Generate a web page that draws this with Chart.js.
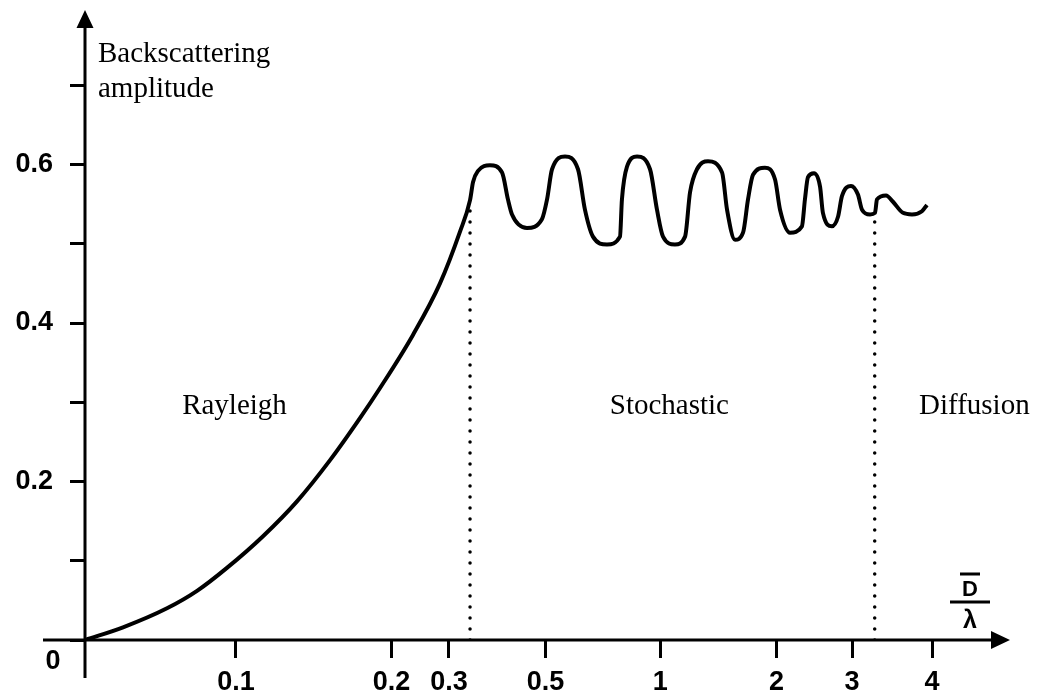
<!DOCTYPE html>
<html>
<head>
<meta charset="utf-8">
<title>Backscattering amplitude</title>
<script src="https://cdn.jsdelivr.net/npm/chart.js@4.4.1/dist/chart.umd.min.js"></script>
<style>
  html, body { margin: 0; padding: 0; background: #fff; }
  #wrap { width: 1049px; height: 700px; }
</style>
</head>
<body>
<div id="wrap"><canvas id="chart" width="1049" height="700"></canvas></div>
<script>
// The D/lambda axis is drawn schematically, not to scale.
// Positions along it are in "tick units": the 0.1 tick sits at 1.
const xTickPos = [1, 2.03, 2.41, 3.05, 3.81, 4.58, 5.08, 5.61];
const xTickLabels = ['0.1', '0.2', '0.3', '0.5', '1', '2', '3', '4'];
const yTicks = [0, 0.1, 0.2, 0.3, 0.4, 0.5, 0.6, 0.7];
const yLabelled = ['0.2', '0.4', '0.6'];

// backscattering curve
const xPos = [
  0, 0.252, 0.543, 0.742, 0.940, 1.179, 1.404, 1.623, 1.821, 1.954, 2.172, 2.351, 2.483, 2.550, 2.570,
  2.603, 2.682, 2.762, 2.801, 2.828, 2.927, 3.026, 3.060, 3.093, 3.179, 3.265, 3.311, 3.364,
  3.457, 3.543, 3.556, 3.589, 3.656, 3.742, 3.788, 3.828, 3.907, 3.974, 4.007, 4.053, 4.126,
  4.219, 4.252, 4.305, 4.358, 4.391, 4.424, 4.503, 4.570, 4.603, 4.669, 4.748, 4.768, 4.788,
  4.828, 4.868, 4.887, 4.947, 4.987, 5.013, 5.073, 5.119, 5.146, 5.199, 5.232, 5.245, 5.305,
  5.351, 5.417, 5.477, 5.543, 5.576
];
const amplitude = [
  0, 0.016, 0.040, 0.062, 0.091, 0.131, 0.175, 0.227, 0.280, 0.318, 0.385, 0.450, 0.515, 0.555, 0.578,
  0.592, 0.599, 0.590, 0.556, 0.537, 0.520, 0.531, 0.556, 0.594, 0.610, 0.594, 0.543, 0.509,
  0.499, 0.509, 0.556, 0.597, 0.610, 0.594, 0.543, 0.509, 0.499, 0.509, 0.565, 0.594, 0.604,
  0.590, 0.543, 0.505, 0.514, 0.556, 0.587, 0.596, 0.581, 0.543, 0.514, 0.522, 0.556, 0.584,
  0.589, 0.572, 0.539, 0.522, 0.534, 0.560, 0.573, 0.562, 0.543, 0.537, 0.539, 0.556, 0.561,
  0.553, 0.539, 0.537, 0.541, 0.549
];

// regime boundaries (dotted verticals) and regime names
const regionBounds = [2.55, 5.23];
const boundAmp = [0.555, 0.539];
const regionNames = ['Rayleigh', 'Stochastic', 'Diffusion'];

const sansBold = { family: '"Liberation Sans", Arial, sans-serif', size: 27, weight: 'bold' };

const extras = {
  id: 'extras',
  afterDraw(chart) {
    const { ctx, chartArea, scales: { x, y } } = chart;
    const x0 = x.getPixelForValue(0);
    const y0 = y.getPixelForValue(0);
    const tipX = chartArea.right;
    const tipY = chartArea.top + 4;

    ctx.save();
    ctx.strokeStyle = '#000';
    ctx.fillStyle = '#000';
    ctx.lineWidth = 3;

    // axes, running a little past the origin
    ctx.beginPath();
    ctx.moveTo(x0 - 42, y0);
    ctx.lineTo(tipX - 12, y0);
    ctx.moveTo(x0, y0 + 38);
    ctx.lineTo(x0, tipY + 12);
    ctx.stroke();

    // arrow heads
    ctx.beginPath();
    ctx.moveTo(tipX, y0);
    ctx.lineTo(tipX - 19, y0 - 9);
    ctx.lineTo(tipX - 19, y0 + 9);
    ctx.closePath();
    ctx.moveTo(x0, tipY);
    ctx.lineTo(x0 - 8.5, tipY + 18);
    ctx.lineTo(x0 + 8.5, tipY + 18);
    ctx.closePath();
    ctx.fill();

    // origin label
    ctx.font = 'bold 27px "Liberation Sans", Arial, sans-serif';
    ctx.textAlign = 'center';
    ctx.textBaseline = 'middle';
    ctx.fillText('0', x0 - 32, y0 + 22);

    // y axis title
    ctx.font = '29px "Liberation Serif", "Times New Roman", serif';
    ctx.textAlign = 'left';
    ctx.textBaseline = 'alphabetic';
    ctx.fillText('Backscattering', x0 + 13, chartArea.top + 56);
    ctx.fillText('amplitude', x0 + 13, chartArea.top + 91);

    // regime names
    const centres = [0.99, 3.87, 5.89];
    ctx.textAlign = 'center';
    regionNames.forEach((name, i) => {
      ctx.fillText(name, x.getPixelForValue(centres[i]), y.getPixelForValue(0.285));
    });

    // x axis title: D-bar over lambda
    const cx = tipX - 40;
    ctx.font = 'bold 22px "Liberation Sans", Arial, sans-serif';
    ctx.textBaseline = 'middle';
    ctx.fillText('D', cx, y0 - 50);
    ctx.beginPath();
    ctx.moveTo(cx - 10, y0 - 66);
    ctx.lineTo(cx + 10, y0 - 66);
    ctx.moveTo(cx - 20, y0 - 38);
    ctx.lineTo(cx + 20, y0 - 38);
    ctx.stroke();
    ctx.font = 'bold 25px "Liberation Sans", Arial, sans-serif';
    ctx.textBaseline = 'alphabetic';
    ctx.fillText('λ', cx, y0 - 12);

    ctx.restore();
  }
};

document.addEventListener("DOMContentLoaded", function () {
  const curve = xPos.map((v, i) => ({ x: v, y: amplitude[i] }));

  const dotted = regionBounds.map((b, i) => ({
    data: [{ x: b, y: 0 }, { x: b, y: boundAmp[i] }],
    borderColor: '#000',
    borderWidth: 3.5,
    borderDash: [0, 11],
    borderCapStyle: 'round',
    pointRadius: 0
  }));

  new Chart(document.getElementById('chart'), {
    type: 'line',
    data: {
      datasets: [{
        data: curve,
        borderColor: '#000',
        borderWidth: 4,
        pointRadius: 0,
        cubicInterpolationMode: 'monotone'
      }, ...dotted]
    },
    options: {
      responsive: false,
      animation: false,
      devicePixelRatio: 1,
      layout: { padding: { top: 6, right: 39, left: 0, bottom: 0 } },
      plugins: { legend: { display: false }, tooltip: { enabled: false } },
      scales: {
        x: {
          type: 'linear',
          min: 0,
          max: 6.126,
          afterBuildTicks: s => { s.ticks = xTickPos.map(v => ({ value: v })); },
          afterFit: s => { s.height = 60; s.paddingLeft = 0; s.paddingRight = 0; },
          border: { display: false },
          grid: { drawOnChartArea: false, tickLength: 18, tickWidth: 3, tickColor: '#000' },
          ticks: {
            autoSkip: false,
            maxRotation: 0,
            padding: 8,
            color: '#000',
            font: sansBold,
            callback: (v, i) => xTickLabels[i]
          }
        },
        y: {
          min: 0,
          max: 0.8,
          afterBuildTicks: s => { s.ticks = yTicks.map(v => ({ value: v })); },
          afterFit: s => { s.width = 85; s.paddingTop = 0; s.paddingBottom = 0; },
          border: { display: false },
          grid: { drawOnChartArea: false, tickLength: 15, tickWidth: 3, tickColor: '#000' },
          ticks: {
            padding: 17,
            color: '#000',
            font: sansBold,
            callback: v => yLabelled.includes(v.toFixed(1)) ? v.toFixed(1) : ''
          }
        }
      }
    },
    plugins: [extras]
  });
});
</script>
</body>
</html>
